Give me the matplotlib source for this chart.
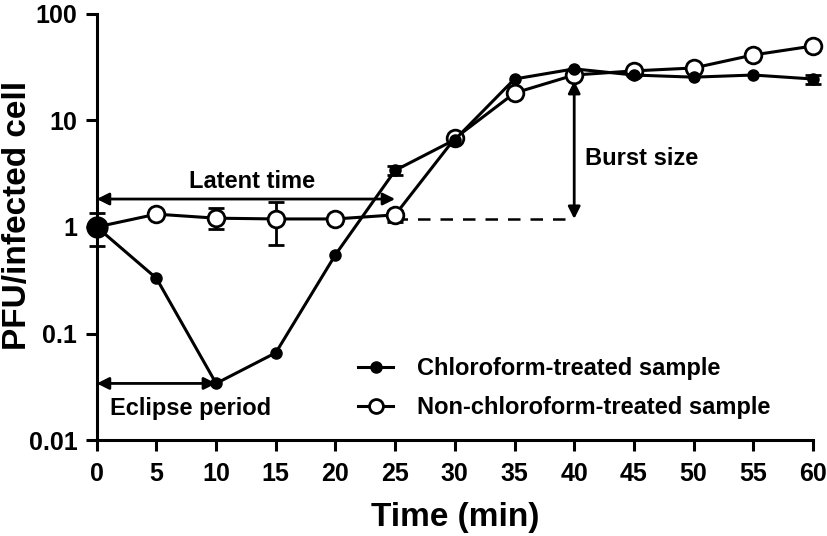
import matplotlib
matplotlib.use("Agg")
import matplotlib.pyplot as plt
from matplotlib.lines import Line2D
import numpy as np

plt.rcParams['font.family'] = ['Liberation Sans', 'DejaVu Sans']
plt.rcParams['font.weight'] = 'bold'

time = [0, 5, 10, 15, 20, 25, 30, 35, 40, 45, 50, 55, 60]
chloro = [1.0, 0.33, 0.034, 0.066, 0.55, 3.4, 6.6, 24.5, 30.5, 26.7, 25.5, 26.7, 24.5]
chloro_err_lo = [0, 0, 0, 0, 0, 0.3, 0, 0, 0, 0, 0, 0, 2.5]
chloro_err_hi = [0, 0, 0, 0, 0, 0.3, 0, 0, 0, 0, 0, 0, 2.5]
nonchloro = [1.0, 1.32, 1.21, 1.19, 1.19, 1.30, 6.8, 18.1, 26.7, 29.2, 31.1, 41.2, 50]
non_err_lo = [0.34, 0, 0.25, 0.51, 0.09, 0.18, 0, 0, 0, 0, 0, 0, 0]
non_err_hi = [0.35, 0, 0.30, 0.53, 0.07, 0.10, 0, 0, 0, 0, 0, 0, 0]

fig = plt.figure(figsize=(8.27, 5.36), dpi=100)
ax = fig.add_axes([0.117, 0.179, 0.866, 0.795])


def draw_err(x, y, lo, hi, z):
    idx = [i for i in range(len(x)) if lo[i] > 0 or hi[i] > 0]
    ax.errorbar([x[i] for i in idx], [y[i] for i in idx],
                yerr=[[lo[i] for i in idx], [hi[i] for i in idx]],
                fmt='none', ecolor='black', elinewidth=2, capsize=6, capthick=2,
                zorder=z, clip_on=False)


draw_err(time, nonchloro, non_err_lo, non_err_hi, 2)
draw_err(time, chloro, chloro_err_lo, chloro_err_hi, 2)
ax.plot(time, nonchloro, color='black', lw=2.2, marker='o', ms=12, mfc='white',
        mec='black', mew=2, zorder=3, clip_on=False)
ax.plot(time, chloro, color='black', lw=2.2, marker='o', ms=8, mfc='black',
        mec='black', zorder=4, clip_on=False)
# larger filled marker at time 0
ax.plot([time[0]], [chloro[0]], 'o', color='black', ms=15, zorder=5, clip_on=False)

ax.set_yscale('log')
ax.set_ylim(0.01, 100)
ax.set_xlim(0, 60)
ax.set_xticks(np.arange(0, 61, 5))
ax.set_yticks([0.01, 0.1, 1, 10, 100])
ax.set_yticklabels(['0.01', '0.1', '1', '10', '100'])
ax.yaxis.set_minor_locator(matplotlib.ticker.NullLocator())
ax.tick_params(axis='both', labelsize=18, width=2.2, length=8, direction='out')
ax.tick_params(axis='x', pad=8)
ax.tick_params(axis='y', pad=6)
for lab in ax.get_xticklabels() + ax.get_yticklabels():
    lab.set_fontweight('bold')
for s in ['top', 'right']:
    ax.spines[s].set_visible(False)
for s in ['left', 'bottom']:
    ax.spines[s].set_linewidth(2.2)

ax.set_xlabel('Time (min)', fontsize=24, fontweight='bold', labelpad=11)
fig.text(18 / 827, 1 - 215 / 536, 'PFU/infected cell', rotation=90, ha='center',
         va='center', fontsize=24, fontweight='bold')

arrow = dict(arrowstyle='<|-|>', color='black', lw=2, mutation_scale=18, shrinkA=0, shrinkB=0)
# Latent time
ax.annotate('', xy=(0, 1.83), xytext=(25, 1.83), arrowprops=arrow)
ax.text(13, 2.7, 'Latent time', ha='center', va='center', fontsize=17, fontweight='bold')
# Eclipse period
ax.annotate('', xy=(0, 0.034), xytext=(10, 0.034), arrowprops=arrow)
ax.text(1.1, 0.0198, 'Eclipse period', ha='left', va='center', fontsize=17, fontweight='bold')
# Burst size
ax.plot([25, 40], [1.19, 1.19], ls='--', color='black', lw=1.8, dashes=(5, 4))
ax.annotate('', xy=(40, 1.19), xytext=(40, 23.5), arrowprops=arrow)
ax.text(40.9, 4.4, 'Burst size', ha='left', va='center', fontsize=17, fontweight='bold')

h1 = Line2D([], [], color='black', lw=2.2, marker='o', ms=8, mfc='black')
h2 = Line2D([], [], color='black', lw=2.2, marker='o', ms=10, mfc='white', mew=2)
leg = ax.legend([h1, h2], ['Chloroform-treated sample', 'Non-chloroform-treated sample'],
                loc='upper left', bbox_to_anchor=(0.335, 0.245),
                frameon=False, fontsize=17, handlelength=1.5, handletextpad=1.0,
                labelspacing=0.7)
for t in leg.get_texts():
    t.set_fontweight('bold')

fig.savefig('out.png', dpi=100)
